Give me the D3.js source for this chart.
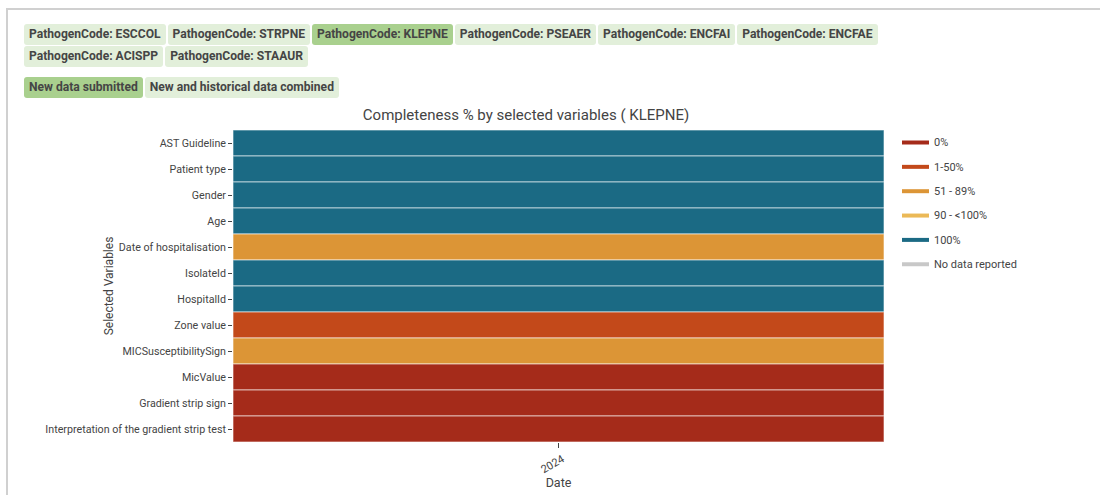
<!DOCTYPE html>
<html>
<head>
<meta charset="utf-8">
<script src="https://cdn.jsdelivr.net/npm/d3@7"></script>
<style>
  html, body { margin: 0; padding: 0; background: #fff; width: 1100px; height: 495px; overflow: hidden; font-family: Roboto, sans-serif; }
  #frame { position: absolute; left: 6px; top: 8px; width: 1100px; height: 495px; border-left: 2px solid #d0d0d0; border-top: 2px solid #d0d0d0; box-sizing: border-box; }
  .btnblock { position: absolute; left: 24px; }
  .btnrow { display: flex; }
  .btn { background: #e2efda; color: #454545; font-weight: 700; font-size: 12.1px; padding: 0 5px; height: 21px; line-height: 21px; margin: 0 2px 1px 0; border-radius: 3px; white-space: nowrap; }
  .btn.sel { background: #a9d08e; }
  svg { position: absolute; left: 0; top: 0; }
</style>
</head>
<body>
<div id="frame"></div>
<div class="btnblock" id="pathogens" style="top:24px;"></div>
<div class="btnblock" id="modes" style="top:77px;"></div>
<svg id="chart" width="1100" height="495"></svg>
<script>
// ---- data ----
const pathogenCodes = ["ESCCOL", "STRPNE", "KLEPNE", "PSEAER", "ENCFAI", "ENCFAE", "ACISPP", "STAAUR"];
const selectedPathogen = "KLEPNE";
const dataModes = ["New data submitted", "New and historical data combined"];
const selectedMode = "New data submitted";

const variables = ["AST Guideline", "Patient type", "Gender", "Age", "Date of hospitalisation",
  "IsolateId", "HospitalId", "Zone value", "MICSusceptibilitySign", "MicValue",
  "Gradient strip sign", "Interpretation of the gradient strip test"];
const completenessClass = ["100%", "100%", "100%", "100%", "51 - 89%",
  "100%", "100%", "1-50%", "51 - 89%", "0%",
  "0%", "0%"];
const dates = ["2024"];

const legendLabels = ["0%", "1-50%", "51 - 89%", "90 - <100%", "100%", "No data reported"];
const legendColors = ["#a52b1a", "#c3491a", "#dc9536", "#ebb957", "#1b6a84", "#c8c8c8"];

// ---- buttons ----
const pathogenRows = [pathogenCodes.slice(0, 6), pathogenCodes.slice(6)];
d3.select("#pathogens").selectAll("div.btnrow").data(pathogenRows).join("div")
  .attr("class", "btnrow")
  .selectAll("div").data(d => d).join("div")
  .attr("class", d => "btn" + (d === selectedPathogen ? " sel" : ""))
  .text(d => "PathogenCode: " + d);
d3.select("#modes").append("div").attr("class", "btnrow")
  .selectAll("div").data(dataModes).join("div")
  .attr("class", d => "btn" + (d === selectedMode ? " sel" : ""))
  .text(d => d);

// ---- chart ----
const svg = d3.select("#chart");
const m = { left: 233, right: 884, top: 130, bottom: 442 };

const color = d3.scaleOrdinal().domain(legendLabels).range(legendColors);
const x = d3.scaleBand().domain(dates).range([m.left, m.right]).padding(0);
const y = d3.scaleBand().domain(variables).range([m.top, m.bottom]).padding(0);

const cells = variables.map((v, i) => ({ v, d: dates[0], c: completenessClass[i] }));

svg.append("g").selectAll("rect").data(cells).join("rect")
  .attr("x", d => x(d.d))
  .attr("y", d => y(d.v))
  .attr("width", x.bandwidth())
  .attr("height", y.bandwidth())
  .attr("fill", d => color(d.c))
  .attr("stroke", "rgba(255,255,255,0.6)")
  .attr("stroke-width", 1);

// y axis
const yAx = svg.append("g").attr("transform", `translate(${m.left - 1},0.5)`)
  .call(d3.axisLeft(y).tickSize(4).tickPadding(2));
yAx.select(".domain").remove();
yAx.selectAll(".tick line").attr("stroke", "#444");
yAx.selectAll("text").attr("fill", "#444").style("font-family", "Roboto, sans-serif").style("font-size", "10.7px");

// x axis
const xAx = svg.append("g").attr("transform", `translate(0,${m.bottom + 1})`)
  .call(d3.axisBottom(x).tickSize(5).tickPadding(2));
xAx.select(".domain").remove();
xAx.selectAll(".tick line").attr("stroke", "#444");
xAx.selectAll("text").attr("fill", "#444").style("font-family", "Roboto, sans-serif").style("font-size", "11px")
  .attr("text-anchor", "end").attr("dy", "1.1em").attr("dx", "-0.3em")
  .attr("transform", "rotate(-30)");

// titles
svg.append("text").attr("x", 526).attr("y", 120)
  .attr("text-anchor", "middle").attr("fill", "#444")
  .style("font-family", "Roboto, sans-serif").style("font-size", "15px")
  .text(`Completeness % by selected variables ( ${selectedPathogen})`);

svg.append("text").attr("x", (m.left + m.right) / 2).attr("y", 487)
  .attr("text-anchor", "middle").attr("fill", "#444")
  .style("font-family", "Roboto, sans-serif").style("font-size", "12.5px")
  .text("Date");

svg.append("text").attr("transform", `translate(113,${(m.top + m.bottom) / 2}) rotate(-90)`)
  .attr("text-anchor", "middle").attr("fill", "#444")
  .style("font-family", "Roboto, sans-serif").style("font-size", "12px")
  .text("Selected Variables");

// legend
const lg = svg.append("g").selectAll("g").data(legendLabels).join("g")
  .attr("transform", (d, i) => `translate(902,${142.5 + i * 24.35})`);
lg.append("line").attr("x1", 0).attr("x2", 27).attr("y1", 0).attr("y2", 0)
  .attr("stroke", d => color(d)).attr("stroke-width", 4);
lg.append("text").attr("x", 32).attr("y", 0).attr("dy", "0.35em")
  .attr("fill", "#444").style("font-family", "Roboto, sans-serif").style("font-size", "11px")
  .text(d => d);
</script>
</body>
</html>
